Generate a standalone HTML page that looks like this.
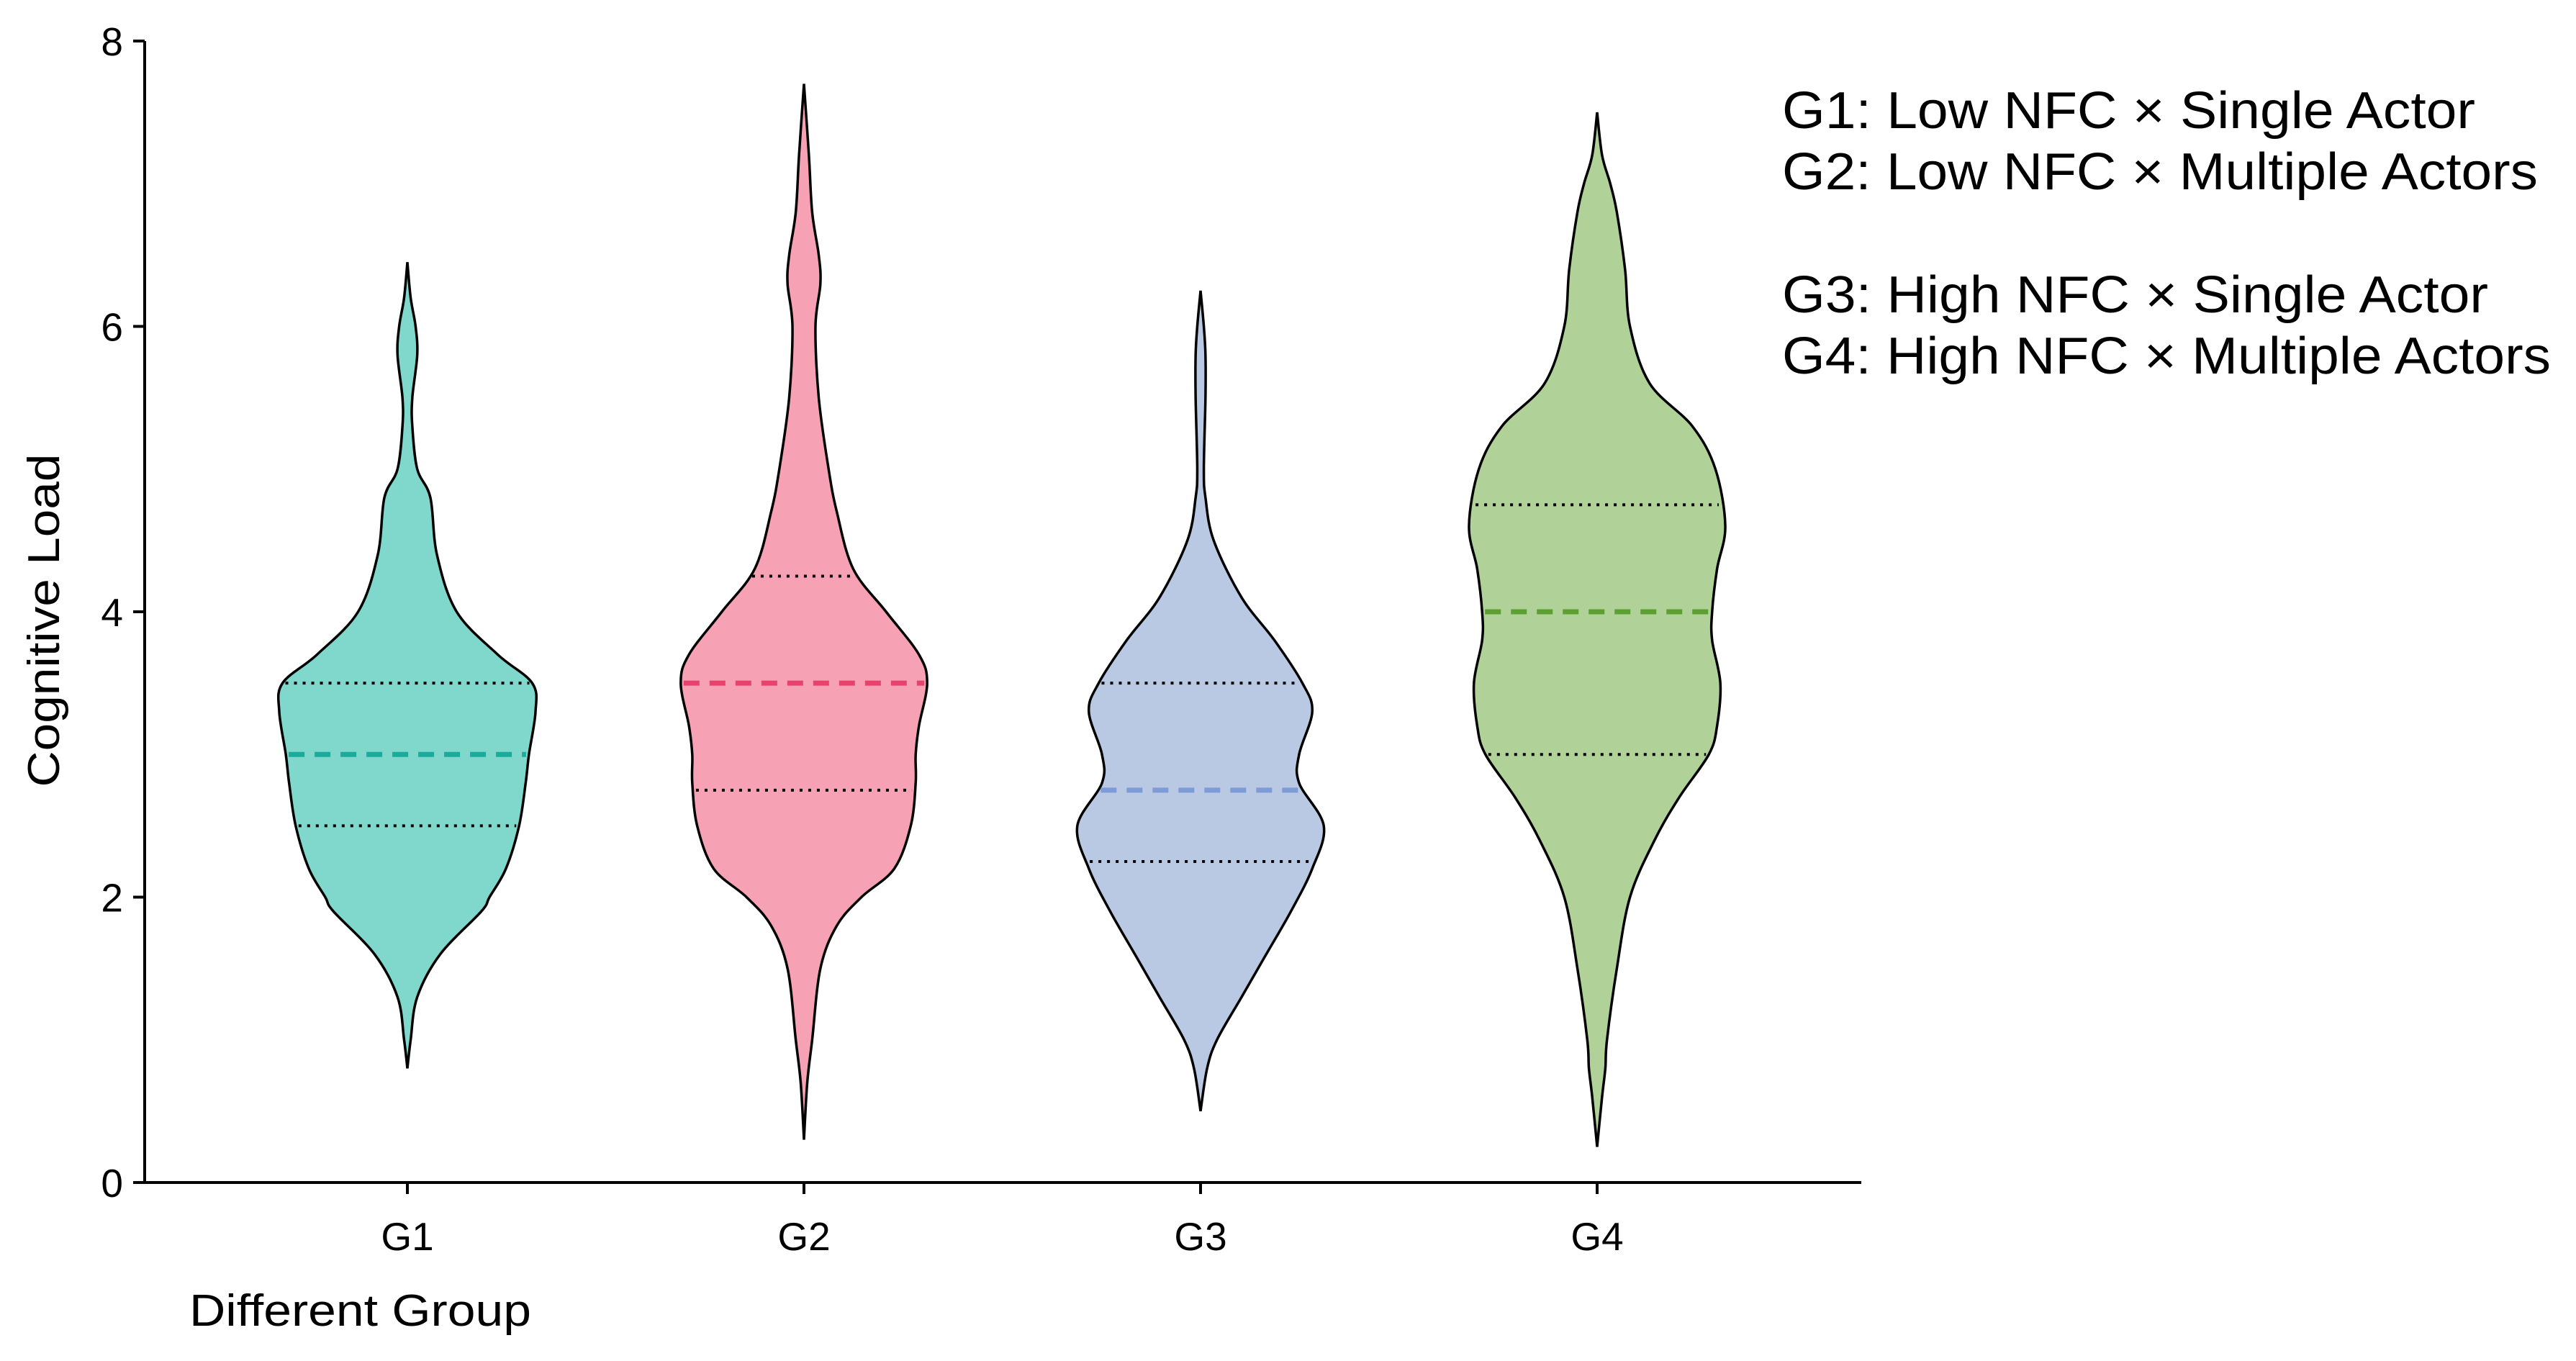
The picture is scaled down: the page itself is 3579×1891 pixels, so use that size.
<!DOCTYPE html>
<html><head><meta charset="utf-8"><style>
html,body{margin:0;padding:0;background:#fff;}
svg{display:block;font-family:"Liberation Sans",Arial,sans-serif;}
</style></head><body>
<svg id="chart" width="3579" height="1891" viewBox="0 0 3579 1891" xmlns="http://www.w3.org/2000/svg">
<g id="axes"></g>
<g id="violins"></g>
<text x="0" y="0" font-size="62" text-anchor="middle" textLength="463" lengthAdjust="spacingAndGlyphs" transform="translate(82,862) rotate(-90)">Cognitive Load</text>
<text x="263" y="1842" font-size="62" textLength="475" lengthAdjust="spacingAndGlyphs">Different Group</text>
<g font-size="72">
<text x="2476" y="178" textLength="963" lengthAdjust="spacingAndGlyphs">G1: Low NFC × Single Actor</text>
<text x="2476" y="263" textLength="1050" lengthAdjust="spacingAndGlyphs">G2: Low NFC × Multiple Actors</text>
<text x="2476" y="434" textLength="981" lengthAdjust="spacingAndGlyphs">G3: High NFC × Single Actor</text>
<text x="2476" y="519" textLength="1068" lengthAdjust="spacingAndGlyphs">G4: High NFC × Multiple Actors</text>
</g>
</svg>
<script>
const categories = ["G1","G2","G3","G4"];
const yTicks = [0,2,4,6,8];
const g1Levels = [0.8,1.0,1.3,1.6,1.9,2.0,2.2,2.5,2.8,3.0,3.3,3.5,3.7,4.0,4.4,4.8,5.0,5.3,5.5,5.8,6.0,6.2,6.45];
const g1Widths = [0,2,6,20,45,50,60,68,72,74,78,76,55,30,18,14,6,3,3,6,5,2,0];
const g2Levels = [0.3,0.7,1.0,1.5,1.8,2.0,2.2,2.5,2.8,3.0,3.2,3.5,3.7,4.0,4.3,4.7,5.0,5.5,6.0,6.3,6.5,6.8,7.2,7.7];
const g2Widths = [0,2,5,10,20,35,55,65,68,68,70,75,70,50,30,20,15,9,7,10,9,5,3,0];
const g3Levels = [0.5,0.8,1.0,1.3,1.6,1.9,2.2,2.5,2.8,3.0,3.3,3.5,3.8,4.1,4.5,4.8,5.0,5.5,5.8,6.0,6.25];
const g3Widths = [0,4,10,25,40,55,68,75,60,60,68,62,45,25,8,3,2,3,3,2,0];
const g4Levels = [0.25,0.6,0.8,1.0,1.5,2.0,2.4,2.7,3.0,3.2,3.5,3.8,4.0,4.3,4.6,5.0,5.3,5.6,6.0,6.4,6.8,7.0,7.2,7.5];
const g4Widths = [0,3,5,6,12,20,35,50,68,73,75,70,70,73,78,72,58,32,20,17,12,8,3,0];
const medians = [3.0,3.5,2.75,4.0];
const q1s = [2.5,2.75,2.25,3.0];
const q3s = [3.5,4.25,3.5,4.75];
const fills = ["#7fd8cb","#f7a2b4","#b9c9e3","#b0d298"];
const medColors = ["#1aab9b","#e8416b","#7d9bd6","#5ba031"];

const NS="http://www.w3.org/2000/svg";
const X0=201,X1=2586,Y0=1643,Y8=57;
const yS=v=>Y0+(Y8-Y0)*v/8;
const xC=i=>566+i*551;
const wS=w=>w*2.2825;
function mk(tag,attrs,parent){const e=document.createElementNS(NS,tag);for(const k in attrs)e.setAttribute(k,attrs[k]);parent.appendChild(e);return e;}
const axes=document.getElementById('axes');
let a=mk('line',{x1:X0,y1:Y0,x2:X1,y2:Y0,stroke:'#000','stroke-width':4},axes);


a=mk('line',{x1:X0,y1:Y0+2,x2:X0,y2:Y8,stroke:'#000','stroke-width':4},axes);


yTicks.forEach(t=>{
 let l=mk('line',{x1:X0-16,y1:yS(t),x2:X0,y2:yS(t),stroke:'#000','stroke-width':4},axes);
 
 
 let tx=mk('text',{x:X0-30,y:yS(t)+20,'font-size':55,'text-anchor':'end'},axes);
 tx.textContent=t;
 
 
});
categories.forEach((c,i)=>{
 let l=mk('line',{x1:xC(i),y1:Y0,x2:xC(i),y2:Y0+16,stroke:'#000','stroke-width':4},axes);
 
 
 let tx=mk('text',{x:xC(i),y:1737,'font-size':55,'text-anchor':'middle'},axes);
 tx.textContent=c;
 
 
});
const levels=[g1Levels,g2Levels,g3Levels,g4Levels];
const widths=[g1Widths,g2Widths,g3Widths,g4Widths];
function smooth(pts){let d='M'+pts[0][0]+','+pts[0][1];
 for(let i=0;i<pts.length-1;i++){const p0=pts[Math.max(0,i-1)],p1=pts[i],p2=pts[i+1],p3=pts[Math.min(pts.length-1,i+2)];
  d+=' C'+(p1[0]+(p2[0]-p0[0])/6)+','+(p1[1]+(p2[1]-p0[1])/6)+' '+(p2[0]-(p3[0]-p1[0])/6)+','+(p2[1]-(p3[1]-p1[1])/6)+' '+p2[0]+','+p2[1];}
 return d;}
function interpW(i,v){const L=levels[i],W=widths[i];for(let k=0;k<L.length-1;k++){if(v>=L[k]&&v<=L[k+1]){return W[k]+(W[k+1]-W[k])*(v-L[k])/(L[k+1]-L[k]);}}return 0;}
const vg=document.getElementById('violins');
categories.forEach((c,i)=>{
 const L=levels[i],W=widths[i],cx=xC(i);
 const right=L.map((v,k)=>[cx+wS(W[k]),yS(v)]);
 const left=L.map((v,k)=>[cx-wS(W[k]),yS(v)]).reverse();
 const dR=smooth(right), dL=smooth(left).replace(/^M[^ ]+/,'');
 const g=mk('g',{},vg);
 
 
 const p=mk('path',{d:dR+' L'+left[0][0]+','+left[0][1]+dL+' Z',fill:fills[i],stroke:'#000','stroke-width':3.5},g);
 
 
 [q1s[i],q3s[i]].forEach(q=>{const w=wS(interpW(i,q))-4;
  const l=mk('line',{x1:cx-w,x2:cx+w,y1:yS(q),y2:yS(q),stroke:'#000','stroke-width':4,'stroke-dasharray':'4 8'},g);
  
  });
 const m=medians[i],w=wS(interpW(i,m))-4;
 const l=mk('line',{x1:cx-w,x2:cx+w,y1:yS(m),y2:yS(m),stroke:medColors[i],'stroke-width':7,'stroke-dasharray':'22 14'},g);
 
 
});
</script>
</body></html>
